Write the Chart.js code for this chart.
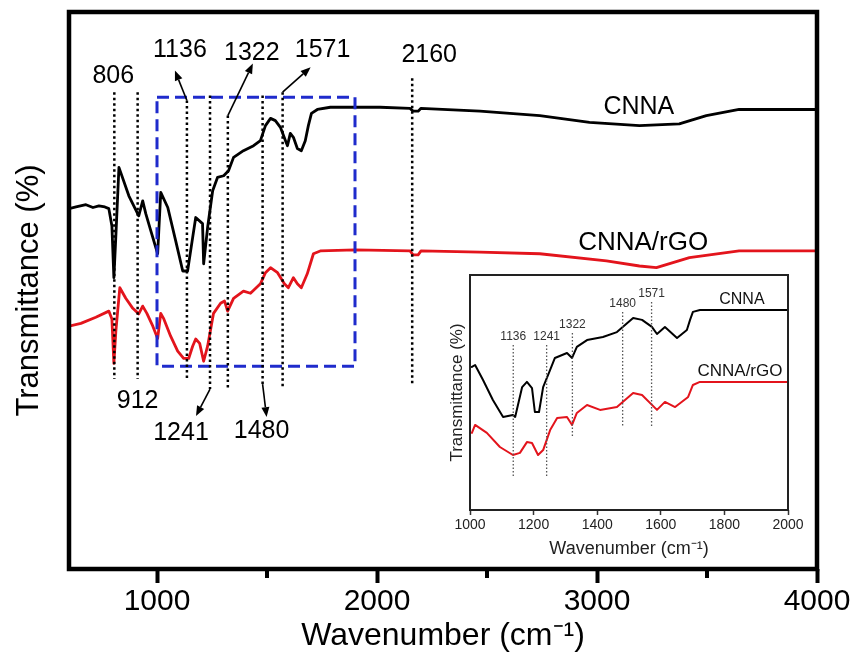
<!DOCTYPE html>
<html>
<head>
<meta charset="utf-8">
<title>FTIR spectra</title>
<script src="https://cdn.jsdelivr.net/npm/chart.js@4.4.1/dist/chart.umd.min.js"></script>
<style>
  html, body { margin: 0; padding: 0; background: #fff; }
  #wrap { position: relative; width: 853px; height: 656px; overflow: hidden; }
  #main { position: absolute; left: 0; top: 0; }
  #inset { position: absolute; left: 425px; top: 262px; }
</style>
</head>
<body>
<div id="wrap">
  <canvas id="main" width="853" height="656"></canvas>
  <canvas id="inset" width="390" height="300"></canvas>
</div>
<script>
// full range spectra (wavenumber, transmittance a.u.)
const cnnaWn = [600, 632, 677, 709, 736, 763, 781, 795, 804, 813, 827, 872, 917, 935, 949, 972, 1003, 1017, 1049, 1085,
  1117, 1139, 1162, 1176, 1207, 1212, 1230, 1253, 1275, 1303, 1325, 1348, 1393, 1439, 1470, 1493, 1516, 1538, 1561, 1584,
  1593, 1606, 1620, 1638, 1656, 1674, 1688, 1702, 1729, 1788, 1901, 2014, 2150, 2164, 2187, 2200, 2468, 2740, 2966, 3193,
  3374, 3497, 3646, 3828, 4000];
const cnnaT = [64.7, 65.0, 65.4, 64.9, 65.2, 65.0, 64.7, 61.6, 52.3, 59.8, 72.1, 67.0, 63.4, 66.1, 63.8, 60.7, 56.6, 67.6, 64.9, 58.9,
  53.5, 53.5, 59.5, 63.1, 62.0, 54.8, 61.3, 67.9, 70.3, 70.6, 71.5, 73.9, 75.1, 76.0, 76.9, 79.6, 80.9, 80.5, 79.3, 76.9,
  76.0, 78.2, 77.5, 75.5, 75.1, 76.9, 79.6, 81.8, 82.5, 82.9, 82.9, 82.9, 82.7, 82.2, 82.2, 82.7, 82.2, 81.4, 80.2, 79.6,
  79.9, 81.4, 82.5, 82.5, 82.5];

const rgoWn = [600, 654, 722, 781, 795, 804, 813, 831, 858, 890, 917, 935, 954, 981, 1003, 1017, 1031, 1062, 1094, 1121,
  1144, 1162, 1176, 1194, 1212, 1230, 1257, 1289, 1307, 1321, 1348, 1393, 1425, 1470, 1493, 1516, 1548, 1579, 1597, 1620,
  1638, 1656, 1683, 1711, 1742, 1901, 2150, 2164, 2187, 2200, 2468, 2740, 3043, 3193, 3270, 3420, 3646, 4000];
const rgoT = [43.6, 44.1, 45.2, 46.3, 44.9, 36.9, 42.7, 50.5, 48.6, 46.8, 45.8, 47.2, 45.9, 43.6, 41.4, 45.9, 44.9, 41.8, 39.1, 37.8,
  37.8, 40.0, 41.3, 40.5, 37.3, 40.0, 45.9, 47.7, 48.1, 46.3, 48.6, 49.9, 49.5, 51.2, 53.2, 54.1, 53.2, 51.2, 50.5, 52.3,
  51.2, 50.5, 53.0, 56.6, 57.1, 57.3, 57.1, 56.4, 56.4, 57.1, 56.9, 56.6, 55.3, 54.4, 54.1, 55.9, 57.1, 57.1];

// zoomed 1000-2000 region
const insetCnnaWn = [1006, 1016, 1041, 1072, 1104, 1135, 1142, 1164, 1179, 1195, 1204, 1217, 1230, 1252, 1267, 1305,
  1321, 1336, 1368, 1418, 1462, 1513, 1541, 1572, 1588, 1613, 1651, 1682, 1692, 1701, 1723, 2000];
const insetCnnaT = [60.9, 61.7, 55.3, 46.8, 39.6, 40.4, 39.6, 52.3, 54.5, 51.9, 41.7, 41.7, 52.3, 59.6, 64.7, 66.8,
  64.7, 69.4, 72.3, 73.6, 75.7, 81.7, 80.9, 77.9, 74.9, 77.9, 73.2, 76.6, 80.9, 84.3, 85.1, 85.1];
const insetRgoWn = [1006, 1016, 1053, 1094, 1135, 1157, 1179, 1195, 1214, 1230, 1252, 1274, 1305, 1321, 1336, 1368,
  1409, 1462, 1513, 1541, 1588, 1613, 1645, 1686, 1701, 1723, 2000];
const insetRgoT = [32.8, 36.2, 32.8, 26.8, 23.4, 24.3, 28.9, 28.5, 23.4, 25.5, 34.0, 39.1, 39.6, 36.2, 41.3, 44.7,
  42.6, 43.8, 49.8, 48.9, 42.6, 46.0, 43.8, 48.1, 53.2, 54.5, 54.5];

// axis ticks
const xTicks = [1000, 1500, 2000, 2500, 3000, 3500, 4000];
const insetTicks = [1000, 1200, 1400, 1600, 1800, 2000];

// assigned bands: wavenumber and vertical extent of the dotted marker
const peakWn = [806, 912, 1136, 1241, 1322, 1480, 1571, 2160];
const peakTop = [85.6, 85.6, 84.1, 85.0, 81.4, 85.0, 85.6, 88.1];
const peakBottom = [34.1, 34.1, 34.1, 32.3, 32.3, 33.2, 32.3, 32.8];
const insetPeakWn = [1136, 1241, 1322, 1480, 1571];
const insetPeakTop = [70.2, 70.2, 75.3, 84.3, 88.5];
const insetPeakBottom = [14.0, 14.0, 31.1, 35.3, 35.3];

// dashed box marking the zoomed range
const boxWn = [1000, 1900];
const boxT = [36.4, 84.7];

const FONT = '"Liberation Sans", Arial, Helvetica, sans-serif';
const RED = '#e3141c';

// where each band label sits relative to its dotted line end (px)
const peakLayout = {
  806: { end: 'top', label: [-1, -16] },
  912: { end: 'bottom', label: [0, 22] },
  1136: { end: 'top', arrow: [-12, -30], label: [-7, -50] },
  1241: { end: 'bottom', arrow: [-14, 27], label: [-29, 44] },
  1322: { end: 'top', arrow: [25, -52], label: [24, -62] },
  1480: { end: 'bottom', arrow: [4, 33], label: [-1, 47] },
  1571: { end: 'top', arrow: [28, -25], label: [40, -42] },
  2160: { end: 'top', label: [17, -23] }
};

const zip = (xs, ys) => xs.map((x, i) => ({ x, y: ys[i] }));

function arrow(ctx, x0, y0, x1, y1) {
  const a = Math.atan2(y1 - y0, x1 - x0);
  const head = 10, half = 4;
  const bx = x1 - Math.cos(a) * head, by = y1 - Math.sin(a) * head;
  ctx.beginPath(); ctx.moveTo(x0, y0); ctx.lineTo(bx, by); ctx.stroke();
  ctx.beginPath();
  ctx.moveTo(x1, y1);
  ctx.lineTo(bx + half * Math.sin(a), by - half * Math.cos(a));
  ctx.lineTo(bx - half * Math.sin(a), by + half * Math.cos(a));
  ctx.closePath(); ctx.fill();
}

const mainDecor = {
  id: 'mainDecor',
  afterDatasetsDraw(chart) {
    const { ctx, scales: { x, y } } = chart;
    ctx.save();
    // blue dashed box
    ctx.strokeStyle = '#1f2bcc'; ctx.lineWidth = 3; ctx.setLineDash([12, 6]);
    const bx0 = x.getPixelForValue(boxWn[0]), bx1 = x.getPixelForValue(boxWn[1]);
    const by0 = y.getPixelForValue(boxT[1]), by1 = y.getPixelForValue(boxT[0]);
    ctx.strokeRect(bx0, by0, bx1 - bx0, by1 - by0);

    // dotted band markers, labels and arrows
    ctx.fillStyle = '#000'; ctx.strokeStyle = '#000';
    ctx.font = '25px ' + FONT; ctx.textAlign = 'center'; ctx.textBaseline = 'middle';
    peakWn.forEach((wn, i) => {
      const px = x.getPixelForValue(wn);
      const top = y.getPixelForValue(peakTop[i]), bot = y.getPixelForValue(peakBottom[i]);
      ctx.setLineDash([2.5, 3]); ctx.lineWidth = 2.5;
      ctx.beginPath(); ctx.moveTo(px, top); ctx.lineTo(px, bot); ctx.stroke();
      const lay = peakLayout[wn];
      const ey = lay.end === 'top' ? top : bot;
      ctx.setLineDash([]); ctx.lineWidth = 1.6;
      if (lay.arrow) arrow(ctx, px, ey, px + lay.arrow[0], ey + lay.arrow[1]);
      ctx.fillText(String(wn), px + lay.label[0], ey + lay.label[1]);
    });

    // series names
    ctx.font = '25px ' + FONT;
    ctx.fillText('CNNA', x.getPixelForValue(3190), y.getPixelForValue(83));
    ctx.font = '26px ' + FONT;
    ctx.fillText('CNNA/rGO', x.getPixelForValue(3210), y.getPixelForValue(58.5));
    ctx.restore();
  },
  afterDraw(chart) {
    const { ctx, chartArea: a, scales: { x } } = chart;
    ctx.save();
    ctx.strokeStyle = '#000'; ctx.lineWidth = 4;
    // minor ticks
    xTicks.filter(v => v % 1000 !== 0).forEach(v => {
      const px = x.getPixelForValue(v);
      ctx.beginPath(); ctx.moveTo(px, a.bottom); ctx.lineTo(px, a.bottom + 9); ctx.stroke();
    });
    ctx.lineWidth = 4.5;
    ctx.strokeRect(a.left, a.top, a.right - a.left, a.bottom - a.top);
    ctx.restore();
  }
};

const insetDecor = {
  id: 'insetDecor',
  afterDatasetsDraw(chart) {
    const { ctx, scales: { x, y } } = chart;
    ctx.save();
    ctx.strokeStyle = '#555'; ctx.fillStyle = '#333';
    ctx.font = '12px ' + FONT; ctx.textAlign = 'center'; ctx.textBaseline = 'middle';
    insetPeakWn.forEach((wn, i) => {
      const px = x.getPixelForValue(wn);
      const top = y.getPixelForValue(insetPeakTop[i]), bot = y.getPixelForValue(insetPeakBottom[i]);
      ctx.setLineDash([1.5, 2]); ctx.lineWidth = 1.3;
      ctx.beginPath(); ctx.moveTo(px, top); ctx.lineTo(px, bot); ctx.stroke();
      ctx.fillText(String(wn), px, top - 8);
    });
    ctx.fillStyle = '#111';
    ctx.font = '16px ' + FONT;
    ctx.fillText('CNNA', x.getPixelForValue(1855), y.getPixelForValue(89.4));
    ctx.font = '17px ' + FONT;
    ctx.fillText('CNNA/rGO', x.getPixelForValue(1849), y.getPixelForValue(59.1));
    ctx.restore();
  },
  afterDraw(chart) {
    const { ctx, chartArea: a } = chart;
    ctx.save();
    ctx.strokeStyle = '#222'; ctx.lineWidth = 2;
    ctx.strokeRect(a.left, a.top, a.right - a.left, a.bottom - a.top);
    ctx.restore();
  }
};

const lineStyle = { pointRadius: 0, tension: 0, borderJoinStyle: 'round', borderCapStyle: 'round', fill: false };

new Chart(document.getElementById('main'), {
  type: 'line',
  data: {
    datasets: [
      { label: 'CNNA', data: zip(cnnaWn, cnnaT), borderColor: '#000', borderWidth: 2.8, ...lineStyle },
      { label: 'CNNA/rGO', data: zip(rgoWn, rgoT), borderColor: RED, borderWidth: 2.8, ...lineStyle }
    ]
  },
  options: {
    responsive: false,
    animation: false,
    events: [],
    layout: { padding: { top: 12, right: 36, left: 0, bottom: 0 } },
    plugins: { legend: { display: false }, tooltip: { enabled: false } },
    scales: {
      x: {
        type: 'linear', min: 600, max: 4000,
        afterBuildTicks: s => { s.ticks = xTicks.map(v => ({ value: v })); },
        afterFit: s => { s.height = 87; },
        border: { display: false },
        grid: {
          display: true, drawOnChartArea: false, drawTicks: true, tickLength: 14, tickWidth: 4,
          tickColor: c => (c.tick && c.tick.value % 1000 === 0) ? '#000' : 'rgba(0,0,0,0)'
        },
        ticks: {
          autoSkip: false, maxRotation: 0, padding: 1, color: '#000',
          font: { family: FONT, size: 30 },
          callback: v => (v % 1000 === 0 ? String(v) : '')
        },
        title: {
          display: true, text: 'Wavenumber (cm\u207B\u00B9)', color: '#000',
          font: { family: FONT, size: 32 }, padding: { top: 0, bottom: 1 }
        }
      },
      y: {
        min: 0, max: 100,
        afterFit: s => { s.width = 69; },
        border: { display: false },
        grid: { display: false },
        ticks: { display: false },
        title: {
          display: true, text: 'Transmittance (%)', color: '#000',
          font: { family: FONT, size: 31 }, padding: { top: 11, bottom: 0 }
        }
      }
    }
  },
  plugins: [mainDecor]
});

new Chart(document.getElementById('inset'), {
  type: 'line',
  data: {
    datasets: [
      { label: 'CNNA', data: zip(insetCnnaWn, insetCnnaT), borderColor: '#000', borderWidth: 2, ...lineStyle },
      { label: 'CNNA/rGO', data: zip(insetRgoWn, insetRgoT), borderColor: RED, borderWidth: 2, ...lineStyle }
    ]
  },
  options: {
    responsive: false,
    animation: false,
    events: [],
    layout: { padding: { top: 13, right: 27, left: 0, bottom: 0 } },
    plugins: { legend: { display: false }, tooltip: { enabled: false } },
    scales: {
      x: {
        type: 'linear', min: 1000, max: 2000,
        afterBuildTicks: s => { s.ticks = insetTicks.map(v => ({ value: v })); },
        afterFit: s => { s.height = 52; },
        border: { display: false },
        grid: { display: true, drawOnChartArea: false, tickLength: 5, tickWidth: 1.5, tickColor: '#333' },
        ticks: {
          autoSkip: false, maxRotation: 0, padding: 2, color: '#222',
          font: { family: FONT, size: 14 },
          callback: v => String(v)
        },
        title: {
          display: true, text: 'Wavenumber (cm\u207B\u00B9)', color: '#222',
          font: { family: FONT, size: 18 }, padding: { top: 0, bottom: 2 }
        }
      },
      y: {
        min: 0, max: 100,
        afterFit: s => { s.width = 45; },
        border: { display: false },
        grid: { display: false },
        ticks: { display: false },
        title: {
          display: true, text: 'Transmittance (%)', color: '#222',
          font: { family: FONT, size: 17 }, padding: { top: 22, bottom: 0 }
        }
      }
    }
  },
  plugins: [insetDecor]
});
</script>
</body>
</html>
